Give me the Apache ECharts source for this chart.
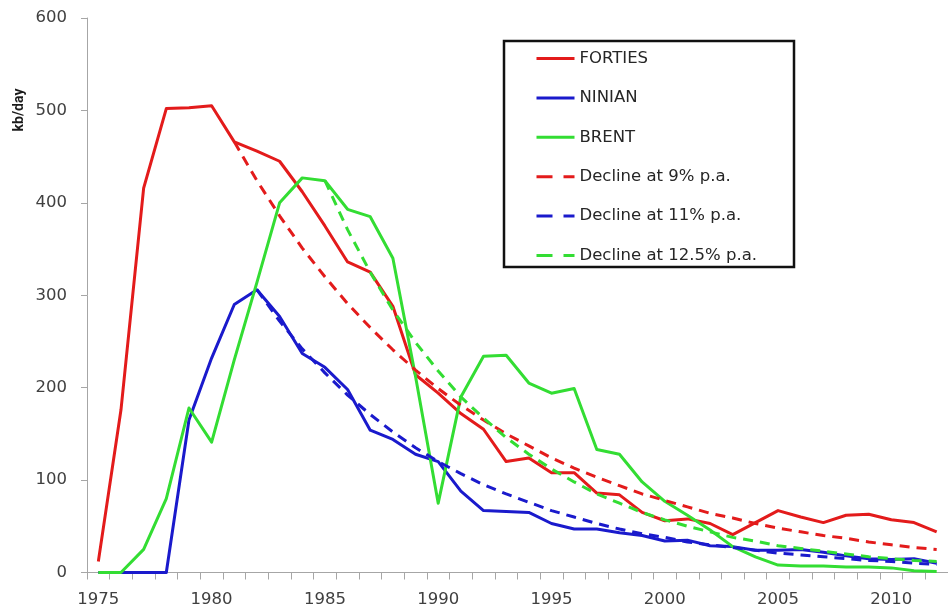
<!DOCTYPE html>
<html>
<head>
<meta charset="utf-8">
<script src="https://cdn.jsdelivr.net/npm/echarts@6/dist/echarts.min.js"></script>
<style>
html,body{margin:0;padding:0;background:#fff}
#chart{width:948px;height:611px}
</style>
</head>
<body>
<div id="chart"></div>
<script>
// North Sea field production, kb/day, 1975-2012
const years = ['1975','1976','1977','1978','1979','1980','1981','1982','1983','1984',
  '1985','1986','1987','1988','1989','1990','1991','1992','1993','1994',
  '1995','1996','1997','1998','1999','2000','2001','2002','2003','2004',
  '2005','2006','2007','2008','2009','2010','2011','2012'];

const forties = [12,176,416,502,503,505,466,456,445,412,
  375,336,325,288,214,194,172,155,120,124,
  108,108,86,84,65,56,58,53,41,54,
  67,60,54,62,63,57,54,44];

const ninian = [0,0,0,0,165,232,290,306,277,237,
  222,198,154,144,128,120,88,67,66,65,
  53,47,47,43,40,34,35,29,28,24,
  24,25,22,18,15,14,15,10];

const brent = [0,0,25,80,178,141,230,314,400,427,
  424,393,385,340,212,75,190,234,235,205,
  194,199,133,128,98,77,62,46,28,17,
  8,7,7,6,6,5,2,1];

// decline curves from each field's peak
const decline9 = [null,null,null,null,null,null,466,424,386,351,
  320,291,265,241,219,199,181,165,150,137,
  124,113,103,94,85,78,71,64,59,53,
  48,44,40,37,33,30,27,25];

const decline11 = [null,null,null,null,null,null,null,306,272,242,
  216,192,171,152,135,120,107,95,85,76,
  67,60,53,47,42,38,33,30,27,24,
  21,19,17,15,13,12,10,9];

const decline125 = [null,null,null,null,null,null,null,null,null,null,
  424,371,325,284,249,218,190,167,146,128,
  112,98,85,75,65,57,50,44,38,34,
  29,26,23,20,17,15,13,12];

const yTicks = [0,100,200,300,400,500,600];

const RED = '#e31b1b', BLUE = '#1a1acc', GREEN = '#33dd33';
const FONT = '"DejaVu Sans", sans-serif';

function lineSeries(name, data, color, dash) {
  return {
    name: name,
    type: 'line',
    data: data,
    symbol: 'none',
    showSymbol: false,
    connectNulls: false,
    silent: true,
    lineStyle: { color: color, width: 3, type: dash || 'solid', cap: 'butt', join: 'round' },
    itemStyle: { color: color },
    emphasis: { disabled: true }
  };
}

const chart = echarts.init(document.getElementById('chart'), null, { renderer: 'canvas' });

const legendDash = { type: [16, 11], width: 3 };

chart.setOption({
  animation: false,
  backgroundColor: '#fff',
  grid: { left: 87, top: 18, width: 868, height: 554.5 },
  xAxis: {
    type: 'category',
    data: years,
    boundaryGap: true,
    axisLine: { lineStyle: { color: '#a6a6a6', width: 1 } },
    axisTick: { show: true, interval: 0, length: 7, lineStyle: { color: '#a6a6a6' } },
    axisLabel: { interval: 4, margin: 19, color: '#404040', fontSize: 16.5, fontFamily: FONT },
    splitLine: { show: false }
  },
  yAxis: {
    type: 'value',
    min: yTicks[0],
    max: yTicks[yTicks.length - 1],
    interval: yTicks[1] - yTicks[0],
    axisLine: { show: true, lineStyle: { color: '#a6a6a6', width: 1 } },
    axisTick: { show: true, length: 6, lineStyle: { color: '#a6a6a6' } },
    axisLabel: { margin: 20, color: '#404040', fontSize: 16.5, fontFamily: FONT },
    splitLine: { show: false }
  },
  legend: {
    orient: 'vertical',
    left: 535,
    top: 50,
    padding: 0,
    itemWidth: 38,
    itemHeight: 16,
    itemGap: 22.4,
    z: 6,
    selectedMode: false,
    itemStyle: { color: 'rgba(0,0,0,0)', borderWidth: 0, opacity: 0 },
    lineStyle: { width: 3 },
    textStyle: { fontSize: 16.5, color: '#262626', fontFamily: FONT },
    data: [
      { name: 'FORTIES' },
      { name: 'NINIAN' },
      { name: 'BRENT' },
      { name: 'Decline at 9% p.a.', lineStyle: legendDash },
      { name: 'Decline at 11% p.a.', lineStyle: legendDash },
      { name: 'Decline at 12.5% p.a.', lineStyle: legendDash }
    ]
  },
  graphic: [
    {
      type: 'rect',
      z: 5,
      shape: { x: 504, y: 41, width: 290, height: 226 },
      style: { fill: '#fff', stroke: '#111', lineWidth: 2.5 }
    },
    {
      type: 'text',
      x: 19,
      y: 110,
      rotation: Math.PI / 2,
      style: {
        text: 'kb/day',
        font: 'bold 14px Roboto, sans-serif',
        fill: '#1a1a1a',
        align: 'center',
        verticalAlign: 'middle'
      }
    }
  ],
  series: [
    lineSeries('FORTIES', forties, RED),
    lineSeries('NINIAN', ninian, BLUE),
    lineSeries('BRENT', brent, GREEN),
    lineSeries('Decline at 9% p.a.', decline9, RED, [10, 7]),
    lineSeries('Decline at 11% p.a.', decline11, BLUE, [10, 7]),
    lineSeries('Decline at 12.5% p.a.', decline125, GREEN, [10, 7])
  ]
});
</script>
</body>
</html>
